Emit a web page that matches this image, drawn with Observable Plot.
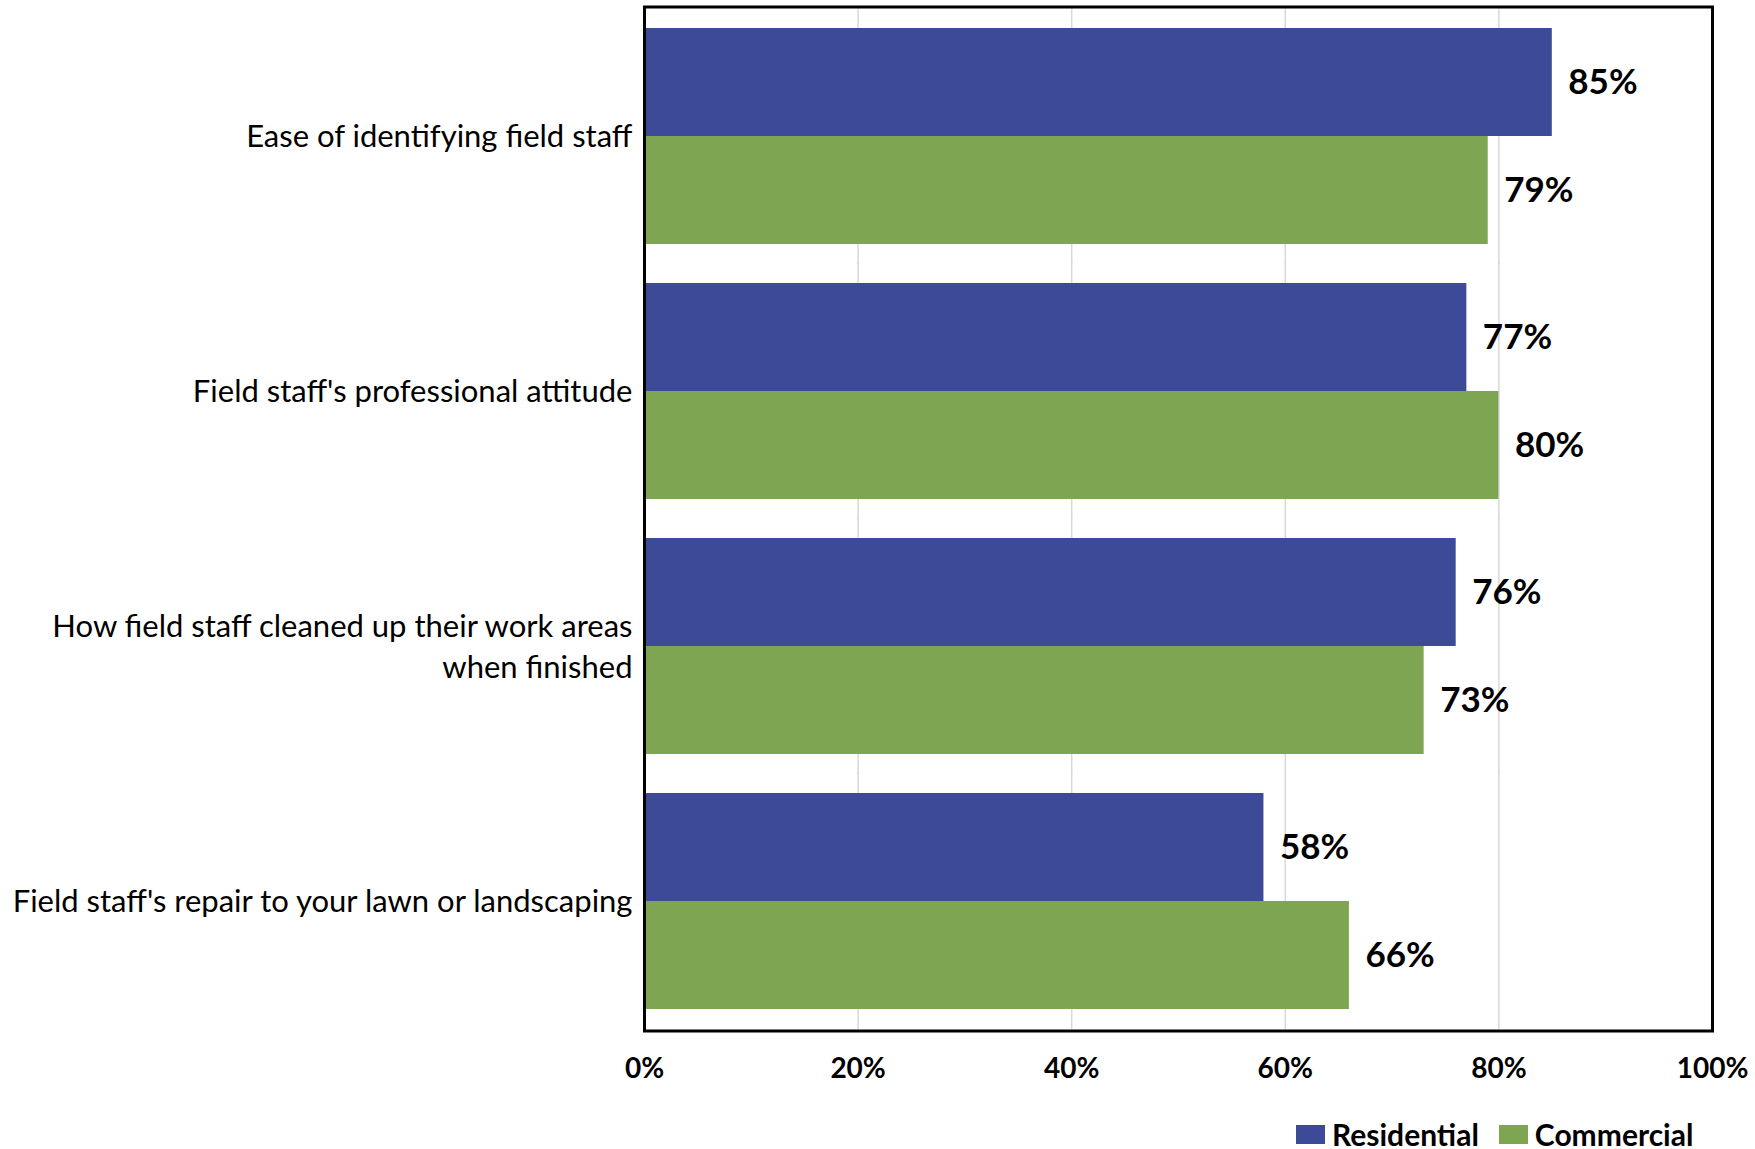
<!DOCTYPE html>
<html><head><meta charset="utf-8">
<script src="https://cdn.jsdelivr.net/npm/d3@7"></script>
<script src="https://cdn.jsdelivr.net/npm/@observablehq/plot@0.6"></script>
<style>
body{margin:0;background:#fff;font-family:Lato,"Open Sans",sans-serif;}
#wrap{position:relative;width:1755px;height:1149px;}
#legend{position:absolute;left:1296px;top:1116px;}
#legend .lg-swatches{font-family:Lato,sans-serif !important;font-size:30px !important;font-weight:bold !important;color:#000 !important;margin:0 !important;min-height:0 !important;}
#legend .lg-swatch{margin-right:20px !important;}
#legend .lg-swatch > svg{margin-right:7px !important;}
</style></head><body><div id="wrap"><div id="chart"></div><div id="legend"></div></div><script>
const categories = ["Ease of identifying field staff", "Field staff's professional attitude", "How field staff cleaned up their work areas when finished", "Field staff's repair to your lawn or landscaping"];
const categoryLabels = ["Ease of identifying field staff", "Field staff's professional attitude", "How field staff cleaned up their work areas\nwhen finished", "Field staff's repair to your lawn or landscaping"];
const series = ["Residential", "Commercial"];
const residential = [0.85, 0.77, 0.76, 0.58];
const commercial = [0.79, 0.80, 0.73, 0.66];
const colors = ["#3C4A97", "#7EA551"];
const xTicks = [0, 0.2, 0.4, 0.6, 0.8, 1];

const data = categories.flatMap((c, i) => [
  {category: c, series: series[0], value: residential[i]},
  {category: c, series: series[1], value: commercial[i]}
]);
const labelOf = new Map(categories.map((c, i) => [c, categoryLabels[i]]));
const pct = d3.format(".0%");

const plot = Plot.plot({
  width: 1755, height: 1100,
  marginLeft: 644, marginRight: 43, marginTop: 7, marginBottom: 70,
  style: {fontFamily: "Lato, sans-serif", color: "#000", background: "#fff"},
  x: {domain: [0, 1]},
  y: {domain: series, axis: null, padding: 0},
  fy: {domain: categories, paddingInner: 0.148, paddingOuter: 0.074},
  color: {domain: series, range: colors},
  marks: [
    Plot.ruleX(xTicks.slice(1, -1), {stroke: "#D9D9D9", strokeWidth: 1.5, insetTop: -20, insetBottom: -20}),
    Plot.barX(data, {fy: "category", y: "series", x: "value", fill: "series"}),
    Plot.text(data, {fy: "category", y: "series", x: "value", text: d => pct(d.value), textAnchor: "start", dx: 16, fontSize: 35, fontWeight: "bold", fill: "#000"}),
    Plot.axisFy({anchor: "left", tickSize: 0, tickPadding: 12, fontSize: 31, label: null, tickFormat: c => labelOf.get(c), lineHeight: 1.3, dy: -1.5}),
    Plot.axisX({ticks: xTicks, tickSize: 0, tickPadding: 49, tickFormat: pct, fontSize: 28, fontWeight: "bold", label: null}),
    Plot.frame({facet: "super", stroke: "#000", strokeWidth: 3, insetTop: -20.5, insetBottom: -21.5})
  ]
});
document.getElementById("chart").appendChild(plot);
const legend = plot.legend("color", {className: "lg", swatchWidth: 29, swatchHeight: 19});
document.getElementById("legend").appendChild(legend);
</script></body></html>
